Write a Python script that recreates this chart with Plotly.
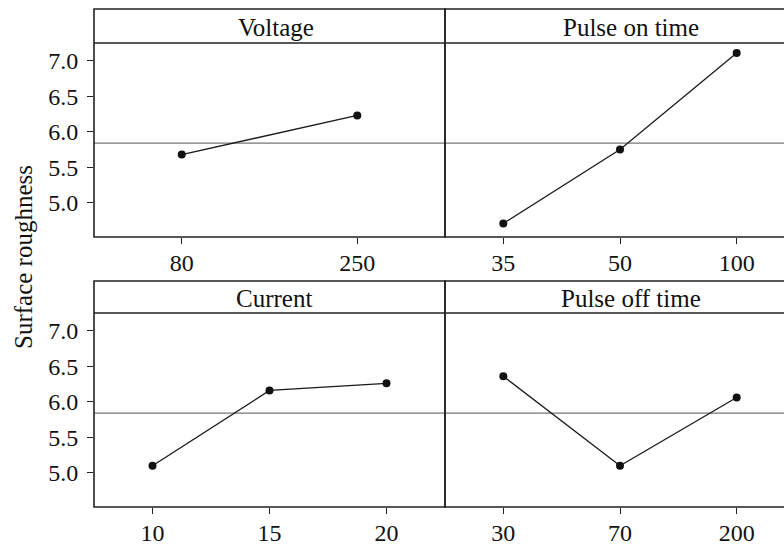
import plotly.graph_objects as go

# ---- data ----
factors = ["Voltage", "Pulse on time", "Current", "Pulse off time"]
voltage_levels = ["80", "250"]
voltage_means = [5.68, 6.23]
pulse_on_levels = ["35", "50", "100"]
pulse_on_means = [4.71, 5.75, 7.11]
current_levels = ["10", "15", "20"]
current_means = [5.10, 6.16, 6.26]
pulse_off_levels = ["30", "70", "200"]
pulse_off_means = [6.36, 5.10, 6.06]
grand_mean = 5.84
y_ticks = [5.0, 5.5, 6.0, 6.5, 7.0]
y_label = "Surface roughness"

W, H = 784, 546
FONT = "Liberation Serif, Times New Roman, serif"
FS = 25
TFS = 24
FRAME = "#222222"

fig = go.Figure()

panels = [
    (voltage_levels, voltage_means, "x", "y"),
    (pulse_on_levels, pulse_on_means, "x2", "y2"),
    (current_levels, current_means, "x3", "y3"),
    (pulse_off_levels, pulse_off_means, "x4", "y4"),
]
for levels, means, xa, ya in panels:
    fig.add_trace(go.Scatter(
        x=list(range(len(levels))), y=means, xaxis=xa, yaxis=ya,
        mode="lines+markers",
        line=dict(color="#1a1a1a", width=1.3),
        marker=dict(color="#111111", size=8),
        showlegend=False, hoverinfo="skip"))

# pixel geometry (screen coordinates)
px = lambda v: v / W
py = lambda v: (H - v) / H
xl0, xmid, xr1 = 94, 445, 795
rows = [(9, 43, 237), (281, 313, 507)]  # strip top, strip bottom, plot bottom

yrange = [4.52, 7.25]
cat_sp = 116.6

def xax(levels, d0, d1, right):
    n = len(levels)
    hi = n - 0.5 - ((xr1 - W) / cat_sp if right else 0)
    return dict(domain=[d0, d1], range=[-0.5, hi], tickmode="array",
                tickvals=list(range(n)), ticktext=levels,
                ticks="outside", ticklen=6, tickwidth=1.2, tickcolor=FRAME,
                showgrid=False, zeroline=False, showline=False,
                tickfont=dict(family=FONT, size=TFS, color="#111"),
                ticklabelstandoff=-2, fixedrange=True)

def yax(row, left, anchor):
    st, sb, pb = rows[row]
    d = dict(domain=[py(pb), py(sb)], range=yrange, anchor=anchor,
             showgrid=False, zeroline=False, showline=False, fixedrange=True)
    if left:
        d.update(tickmode="array", tickvals=y_ticks,
                 ticktext=[f"{v:.1f}" for v in y_ticks],
                 ticks="outside", ticklen=6, tickwidth=1.2, tickcolor=FRAME,
                 tickfont=dict(family=FONT, size=TFS, color="#111"),
                 ticklabelstandoff=4)
    else:
        d.update(showticklabels=False, ticks="")
    return d

fig.update_layout(
    width=W, height=H,
    margin=dict(l=0, r=0, t=0, b=0, autoexpand=False),
    paper_bgcolor="white", plot_bgcolor="white",
    xaxis=dict(xax(voltage_levels, px(xl0), px(xmid), False), anchor="y"),
    xaxis2=dict(xax(pulse_on_levels, px(xmid), 1.0, True), anchor="y2"),
    xaxis3=dict(xax(current_levels, px(xl0), px(xmid), False), anchor="y3"),
    xaxis4=dict(xax(pulse_off_levels, px(xmid), 1.0, True), anchor="y4"),
    yaxis=yax(0, True, "x"),
    yaxis2=yax(0, False, "x2"),
    yaxis3=yax(1, True, "x3"),
    yaxis4=yax(1, False, "x4"),
)

shapes = []
yrefs = ["y", "y3"]
for r, (st, sb, pb) in enumerate(rows):
    shapes.append(dict(type="line", xref="paper", yref=yrefs[r],
                       x0=px(xl0), x1=1.02, y0=grand_mean, y1=grand_mean,
                       line=dict(color="#777777", width=1.2), layer="below"))
    for x0, x1 in [(xl0, xmid), (xmid, xr1)]:
        shapes.append(dict(type="rect", xref="paper", yref="paper",
                           x0=px(x0), x1=px(x1), y0=py(pb), y1=py(st),
                           line=dict(color=FRAME, width=1.6)))
        shapes.append(dict(type="line", xref="paper", yref="paper",
                           x0=px(x0), x1=px(x1), y0=py(sb), y1=py(sb),
                           line=dict(color=FRAME, width=1.6)))
fig.update_layout(shapes=shapes)

ann = []
centers_x = [276, 631, 274, 631]
for i, name in enumerate(factors):
    st, sb, pb = rows[i // 2]
    ann.append(dict(text=name, xref="paper", yref="paper",
                    x=px(centers_x[i]), y=py((st + sb) / 2 + 1),
                    xanchor="center", yanchor="middle", showarrow=False,
                    font=dict(family=FONT, size=FS, color="#111")))
ann.append(dict(text=y_label, xref="paper", yref="paper",
                x=px(23), y=py(257), textangle=-90,
                xanchor="center", yanchor="middle", showarrow=False,
                font=dict(family=FONT, size=FS, color="#111")))
fig.update_layout(annotations=ann)

fig.write_html(
    "out.html",
    config={"displayModeBar": False},
    post_script="document.body.style.margin='0';"
                "document.documentElement.style.overflow='hidden';",
)
